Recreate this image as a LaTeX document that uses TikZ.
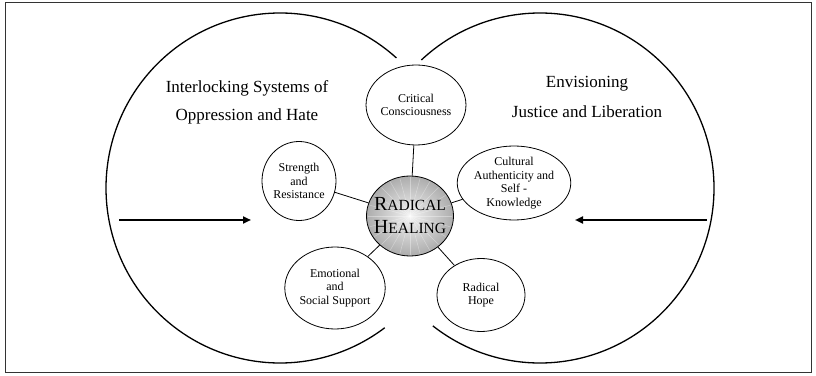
\documentclass[tikz,border=0pt]{standalone}
\usepackage{fontspec}
\setmainfont{Liberation Serif}
\usetikzlibrary{shapes.geometric,arrows.meta}

\newcommand{\initialcap}[1]{{\fontsize{20}{23}\selectfont #1}}

\begin{document}
\begin{tikzpicture}[x=1pt,y=1pt,
  facet/.style={ellipse, draw, line width=0.8pt, inner sep=0pt, align=center,
    font=\fontsize{12}{13.5}\selectfont},
  heading/.style={anchor=base, font=\fontsize{17}{20}\selectfont},
  push/.style={line width=2.4pt, -{Triangle[length=8pt,width=7pt]}}
]

\useasboundingbox (0,0) rectangle (816,375);
\draw [line width=0.9pt, black!80] (5,3) rectangle (811,373);

\coordinate (left-center) at (280,187);
\coordinate (right-center) at (540,187);

\coordinate (critical-consciousness-label) at (416,270);
\coordinate (strength-resistance-label) at (299,194);
\coordinate (cultural-authenticity-label) at (514,192);
\coordinate (emotional-support-label) at (335,87);
\coordinate (radical-hope-label) at (481,80);
\coordinate (radical-healing-label) at (410,159);

% the two worlds
\draw [line width=1.3pt] ([shift={(48:174 and 175)}]left-center) arc [start angle=48, end angle=307, x radius=174, y radius=175];
\draw [line width=1.3pt] ([shift={(-128:174 and 175)}]right-center) arc [start angle=-128, end angle=133, x radius=174, y radius=175];

\node [heading] (oppression-a) at (247,282) {Interlocking Systems of};
\node [heading] (oppression-b) at (247,254) {Oppression and Hate};
\node [heading] (liberation-a) at (587,287) {Envisioning};
\node [heading] (liberation-b) at (587,257) {Justice and Liberation};

\node [ellipse, draw, line width=0.8pt, inner sep=0pt, minimum width=87, minimum height=80,
  inner color=gray!10, outer color=gray!65] (radical-healing-ball) at (radical-healing-label) {};
% light rays
\begin{scope}
  \clip (radical-healing-label) ellipse [x radius=42, y radius=39];
  \foreach \a in {0,15,...,345}
    \draw [white, opacity=0.35, line width=0.5pt] (radical-healing-label) -- ++(\a:45);
\end{scope}
\node [align=center, font=\fontsize{15.5}{23}\selectfont] (radical-healing) at (radical-healing-label)
  {\initialcap{R}ADICAL\\\initialcap{H}EALING};

\node [facet, minimum width=86, minimum height=80] (critical-consciousness) at (critical-consciousness-label) {Critical\\Consciousness};
\node [facet, minimum width=74, minimum height=79] (strength-resistance) at (strength-resistance-label) {Strength\\and\\Resistance};
\node [facet, minimum width=85, minimum height=74] (cultural-authenticity) at (cultural-authenticity-label) {Cultural\\Authenticity and\\Self -\\Knowledge};
\node [facet, minimum width=88, minimum height=82] (emotional-support) at (emotional-support-label) {Emotional\\and\\Social Support};
\node [facet, minimum width=88, minimum height=73] (radical-hope) at (radical-hope-label) {Radical\\Hope};

\draw [line width=0.8pt] (radical-healing-ball) -- (critical-consciousness);
\draw [line width=0.8pt] (radical-healing-ball) -- (strength-resistance);
\draw [line width=0.8pt] (radical-healing-ball) -- (cultural-authenticity);
\draw [line width=0.8pt] (radical-healing-ball) -- (emotional-support);
\draw [line width=0.8pt] (radical-healing-ball) -- (radical-hope);

\coordinate (left-tail) at (119,155);
\coordinate (left-head) at (251,155);
\coordinate (right-tail) at (707,155);
\coordinate (right-head) at (575,155);
\draw [push] (left-tail) -- (left-head);
\draw [push] (right-tail) -- (right-head);

\end{tikzpicture}
\end{document}
